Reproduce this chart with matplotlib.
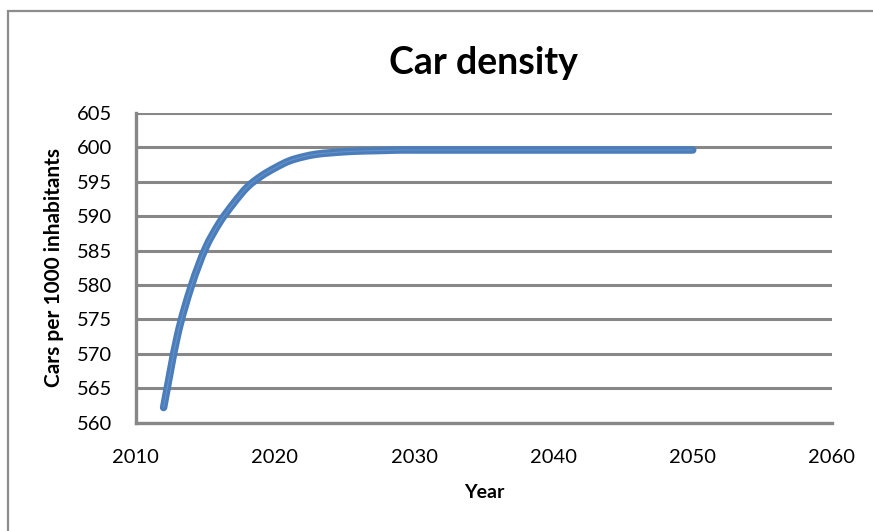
import numpy as np
import matplotlib.pyplot as plt
from matplotlib.patches import Rectangle, PathPatch
from matplotlib.path import Path

years = list(range(2012, 2051))
cars_per_1000 = [562.2, 572.7, 579.9, 585.3, 589.0, 591.8, 594.2, 595.8, 597.0, 598.0,
                 598.6, 599.0, 599.2, 599.35, 599.45, 599.5, 599.55, 599.6, 599.6, 599.6,
                 599.6, 599.6, 599.6, 599.6, 599.6, 599.6, 599.6, 599.6, 599.6, 599.6,
                 599.6, 599.6, 599.6, 599.6, 599.6, 599.6, 599.6, 599.6, 599.6]
x_ticks = [2010, 2020, 2030, 2040, 2050, 2060]
y_ticks = [560, 565, 570, 575, 580, 585, 590, 595, 600, 605]


def smooth_path(xs, ys):
    # Excel-style smoothed line: cubic bezier through the points (Catmull-Rom)
    pts = np.column_stack([xs, ys]).astype(float)
    pad = np.vstack([pts[0], pts, pts[-1]])
    verts = [pts[0]]
    codes = [Path.MOVETO]
    for i in range(len(pts) - 1):
        p0, p1, p2, p3 = pad[i], pad[i + 1], pad[i + 2], pad[i + 3]
        verts += [p1 + (p2 - p0) / 6, p2 - (p3 - p1) / 6, p2]
        codes += [Path.CURVE4] * 3
    return Path(verts, codes)


plt.rcParams['font.family'] = ['Lato', 'DejaVu Sans']

fig = plt.figure(figsize=(8.73, 5.31), dpi=100)
ax = fig.add_axes([0.1555, 0.2040, 0.7975, 0.5835])

grid_col = '#878787'

# outer chart frame (only top and left edges visible)
fig.patches.append(Rectangle((0.0095, -0.1), 1.2, 1.08, transform=fig.transFigure,
                             fill=False, edgecolor='#8c8c8c', linewidth=1.6))

path = smooth_path(years, cars_per_1000)
ax.add_patch(PathPatch(path, fill=False, edgecolor='#4a7dba', linewidth=5.4,
                       capstyle='round', joinstyle='round', zorder=3))
ax.add_patch(PathPatch(path, fill=False, edgecolor='#6e9ad0', linewidth=0.7,
                       alpha=0.8, zorder=4))

ax.set_xlim(2010, 2060)
ax.set_ylim(560, 605)
ax.set_xticks(x_ticks)
ax.set_yticks(y_ticks)
ax.yaxis.grid(True, color=grid_col, linewidth=2.2)
ax.set_axisbelow(True)

for s in ['top', 'right']:
    ax.spines[s].set_visible(False)
for s in ['left', 'bottom']:
    ax.spines[s].set_color(grid_col)
    ax.spines[s].set_linewidth(2.4)

ax.tick_params(axis='both', length=0, labelsize=14.5, colors='black')
ax.tick_params(axis='y', pad=17)
ax.tick_params(axis='x', pad=19)

ax.set_title('Car density', fontsize=27, fontweight='bold', pad=28)
ax.set_xlabel('Year', fontsize=14, fontweight='bold', labelpad=13)
ax.set_ylabel('Cars per 1000 inhabitants', fontsize=15, fontweight='bold', labelpad=9)

fig.savefig('out.png', dpi=100)
